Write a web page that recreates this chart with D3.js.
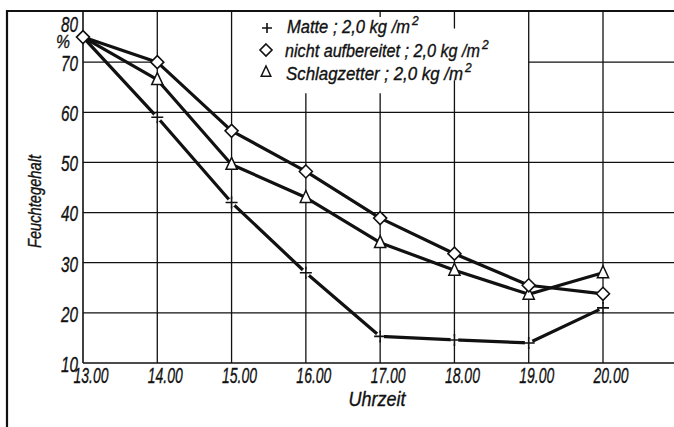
<!DOCTYPE html>
<html><head><meta charset="utf-8">
<script src="https://cdn.jsdelivr.net/npm/d3@7"></script>
<style>
html,body{margin:0;padding:0;background:#fff;}
svg text{font-family:"Liberation Sans","DejaVu Sans",sans-serif;font-style:italic;fill:#111;stroke:#111;stroke-width:0.35px;}
</style></head>
<body>
<svg id="c" width="674" height="427"></svg>
<script>
const hours = [13, 14, 15, 16, 17, 18, 19, 20];
const hourLabels = ["13.00","14.00","15.00","16.00","17.00","18.00","19.00","20.00"];
const yTicks = [10, 20, 30, 40, 50, 60, 70, 80];
const matte = [75, 59, 42, 28, 15.3, 14.6, 14, 21];
const nichtAufbereitet = [75, 70, 56.3, 48.2, 38.9, 31.8, 25.5, 23.8];
const schlagzetter = [75, 66.5, 49.6, 43, 34, 28.5, 23.7, 28];
const legendLabels = ["Matte ; 2,0 kg /m", "nicht aufbereitet ; 2,0 kg /m", "Schlagzetter ; 2,0 kg /m"];

const svg = d3.select("#c");
const W = 674;
const x = d3.scaleLinear().domain([13, 20]).range([83, 603]);
const y = d3.scaleLinear().domain([10, 80]).range([363, 12]);
const ink = "#111";

// frame
svg.append("line").attr("x1",7).attr("x2",W).attr("y1",11).attr("y2",11).attr("stroke",ink).attr("stroke-width",2);
svg.append("line").attr("x1",7).attr("x2",7).attr("y1",10).attr("y2",427).attr("stroke",ink).attr("stroke-width",2.2);

const g = svg.append("g");
[20,30,40,50,60].forEach(v=>{
  g.append("line").attr("x1",x(13)).attr("x2",W).attr("y1",y(v)).attr("y2",y(v)).attr("stroke",ink).attr("stroke-width",1.3);
});
g.append("line").attr("x1",x(13)).attr("x2",x(14)).attr("y1",y(70)).attr("y2",y(70)).attr("stroke",ink).attr("stroke-width",1.3);
g.append("line").attr("x1",x(19)).attr("x2",W).attr("y1",y(70)).attr("y2",y(70)).attr("stroke",ink).attr("stroke-width",1.3);
g.append("line").attr("x1",x(13)).attr("x2",W).attr("y1",y(10)).attr("y2",y(10)).attr("stroke",ink).attr("stroke-width",1.6);
const vTop = {13:80, 14:80, 15:80, 16:63.8, 17:63.8, 18:66.4, 19:80, 20:80};
hours.forEach(h=>{
  g.append("line").attr("x1",x(h)).attr("x2",x(h)).attr("y1",y(vTop[h])).attr("y2",y(10))
   .attr("stroke",ink).attr("stroke-width",h===13?1.6:1.3);
});
g.append("line").attr("x1",x(18)).attr("x2",x(18)).attr("y1",y(80)).attr("y2",y(76.7)).attr("stroke",ink).attr("stroke-width",1.3);
g.append("line").attr("x1",x(17)).attr("x2",x(17)).attr("y1",y(80)).attr("y2",y(79)).attr("stroke",ink).attr("stroke-width",1.3);

function txt(sel, str, tx, ty, size, width, anchor){
  const t = sel.append("text").attr("x",tx).attr("y",ty).attr("font-size",size)
    .attr("text-anchor",anchor||"start").text(str);
  if(width){ t.attr("textLength",width).attr("lengthAdjust","spacingAndGlyphs"); }
  return t;
}

yTicks.forEach(v=>{
  const cy = v===80 ? y(v)+12.5 : y(v)+1;
  txt(svg, String(v), 78, cy, 22, 17, "end").attr("dy","0.36em");
});
txt(svg, "%", 63, 41, 19, 14, "middle").attr("dy","0.36em");
hours.forEach((h,i)=>{
  txt(svg, hourLabels[i], x(h)+8, 383, 22, 35, "middle");
});
txt(svg, "Uhrzeit", 377, 406, 20, 57, "middle");
svg.append("g").attr("transform","translate(41,201.5) rotate(-90)").call(s=>txt(s,"Feuchtegehalt",0,0,18,93,"middle"));

const line = d3.line().x((d,i)=>x(hours[i])).y(d=>y(d));
[matte, nichtAufbereitet, schlagzetter].forEach(s=>{
  svg.append("path").datum(s).attr("d",line).attr("fill","none").attr("stroke",ink).attr("stroke-width",3.2).attr("stroke-linejoin","round");
});

function plus(sel, cx, cy, r){
  sel.append("path").attr("d",`M${cx-r},${cy}H${cx+r}M${cx},${cy-r}V${cy+r}`).attr("stroke",ink).attr("stroke-width",1.6).attr("fill","none");
}
function diamond(sel, cx, cy, r){
  sel.append("path").attr("d",`M${cx},${cy-r}L${cx+r},${cy}L${cx},${cy+r}L${cx-r},${cy}Z`).attr("fill","#fff").attr("stroke",ink).attr("stroke-width",1.6);
}
function tri(sel, cx, cy, r){
  sel.append("path").attr("d",`M${cx},${cy-r}L${cx+r*0.8},${cy+r*0.7}L${cx-r*0.8},${cy+r*0.7}Z`).attr("fill","#fff").attr("stroke",ink).attr("stroke-width",1.5);
}
const m = svg.append("g");
matte.forEach((v,i)=>{ if(i>0){ m.append("circle").attr("cx",x(hours[i])).attr("cy",y(v)).attr("r",4).attr("fill","#fff"); plus(m, x(hours[i]), y(v), 6);} });
schlagzetter.forEach((v,i)=>{ if(i>0) tri(m, x(hours[i]), y(v), 7); });
nichtAufbereitet.forEach((v,i)=> diamond(m, x(hours[i]), y(v), 6.5));

const lg = svg.append("g");
const rowsY = [33, 57, 80];
const rowsX = [287, 285, 286];
const rowsW = [123, 195, 177];
plus(lg, 267, 28, 5);
diamond(lg, 266, 50, 6);
tri(lg, 266, 72, 6);
legendLabels.forEach((t,i)=>{
  const te = lg.append("text").attr("x",rowsX[i]).attr("y",rowsY[i]).attr("font-size",18);
  te.append("tspan").attr("textLength",rowsW[i]).attr("lengthAdjust","spacingAndGlyphs").text(t);
  te.append("tspan").attr("dx",2).attr("dy",-8).attr("font-size",12).text("2");
});
</script>
</body></html>
